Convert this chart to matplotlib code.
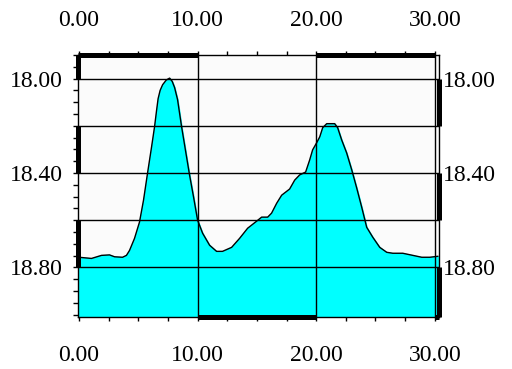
import matplotlib
matplotlib.use("Agg")
import matplotlib.pyplot as plt
from matplotlib.ticker import MultipleLocator, FixedLocator

plt.rcParams['font.family'] = ['Liberation Serif', 'DejaVu Serif']

# profile (depth axis is inverted)
dist = [0.0, 1.05, 1.9, 2.57, 3.0, 3.67, 4.0, 4.26, 4.68, 5.1, 5.44, 5.78, 6.12,
        6.37, 6.54, 6.67, 6.84, 7.05, 7.36, 7.64, 7.86, 8.06, 8.31, 8.65, 9.07,
        9.32, 9.66, 10.0, 10.42, 11.01, 11.6, 12.1, 12.87, 13.54, 14.22, 14.98,
        15.4, 15.91, 16.24, 16.67, 17.09, 17.76, 18.19, 18.61, 19.11, 19.45, 19.7,
        20.04, 20.3, 20.55, 20.89, 21.56, 21.81, 22.15, 22.57, 23.0, 23.42, 23.84,
        24.26, 24.77, 25.36, 25.95, 26.46, 27.3, 28.15, 28.9, 29.58, 30.25]
depth = [18.757, 18.762, 18.749, 18.747, 18.755, 18.757, 18.749, 18.728, 18.677,
         18.608, 18.515, 18.400, 18.289, 18.204, 18.135, 18.085, 18.050, 18.026,
         18.006, 17.998, 18.012, 18.038, 18.089, 18.204, 18.332, 18.408, 18.502,
         18.600, 18.655, 18.706, 18.732, 18.732, 18.715, 18.677, 18.634, 18.604,
         18.587, 18.587, 18.570, 18.528, 18.494, 18.468, 18.430, 18.408, 18.396,
         18.345, 18.302, 18.272, 18.247, 18.208, 18.191, 18.191, 18.208, 18.260,
         18.315, 18.387, 18.464, 18.545, 18.630, 18.672, 18.715, 18.736, 18.740,
         18.740, 18.749, 18.757, 18.757, 18.753]

x_ticks = [0, 10, 20, 30]
x_labels = ['0.00', '10.00', '20.00', '30.00']
y_ticks = [18.0, 18.4, 18.8]
y_labels = ['18.00', '18.40', '18.80']
grid_x = [10, 20, 30]
grid_y = [18.0, 18.2, 18.4, 18.6, 18.8]

x_min, x_max = -0.1, 30.34
y_top, y_bot = 17.9, 19.01

fig = plt.figure(figsize=(5.12, 3.69), dpi=100)
ax = fig.add_axes([0.152, 0.141, 0.705, 0.710])
ax.set_facecolor('#fbfbfb')

ax.fill_between(dist, depth, y_bot + 0.5, color='#00ffff', zorder=1)
ax.plot(dist, depth, color='black', lw=1.0, zorder=2)

for gx in grid_x:
    ax.axvline(gx, color='black', lw=1.0, zorder=3)
for gy in grid_y:
    ax.axhline(gy, color='black', lw=1.0, zorder=3)

ax.set_xlim(x_min, x_max)
ax.set_ylim(y_bot, y_top)

ax.xaxis.set_major_locator(FixedLocator(x_ticks))
ax.set_xticklabels(x_labels)
ax.xaxis.set_minor_locator(MultipleLocator(2.5))
ax.yaxis.set_major_locator(FixedLocator(y_ticks))
ax.set_yticklabels(y_labels)
ax.yaxis.set_minor_locator(MultipleLocator(0.05))

ax.tick_params(axis='x', which='both', top=True, bottom=True, labeltop=False,
               labelbottom=True, direction='out', length=3, width=1,
               pad=17.5, labelsize=17)
ax.tick_params(axis='y', which='both', left=True, right=False, direction='out',
               length=3.6, width=1, pad=7, labelsize=17)

top = ax.secondary_xaxis('top')
top.set_xticks(x_ticks)
top.set_xticklabels(x_labels)
top.tick_params(length=0, pad=17, labelsize=17)
top.spines['top'].set_visible(False)

sec = ax.secondary_yaxis('right')
sec.set_yticks(y_ticks)
sec.set_yticklabels(y_labels)
sec.tick_params(length=0, pad=3, labelsize=17)
sec.spines['right'].set_visible(False)

for s in ax.spines.values():
    s.set_linewidth(1.0)
    s.set_color('black')

# alternating heavy bands on the frame
thick = dict(color='black', lw=3.6, solid_capstyle='butt', clip_on=False, zorder=5)
for a, b in [(y_top, 18.0), (18.2, 18.4), (18.6, 18.8)]:
    ax.plot([x_min, x_min], [a, b], **thick)
for a, b in [(18.0, 18.2), (18.4, 18.6), (18.8, y_bot)]:
    ax.plot([x_max, x_max], [a, b], **thick)
for a, b in [(x_min, 10), (20, 30)]:
    ax.plot([a, b], [y_top, y_top], **thick)
for a, b in [(10, 20), (30, x_max)]:
    ax.plot([a, b], [y_bot, y_bot], **thick)

fig.savefig('out.png', dpi=100)
